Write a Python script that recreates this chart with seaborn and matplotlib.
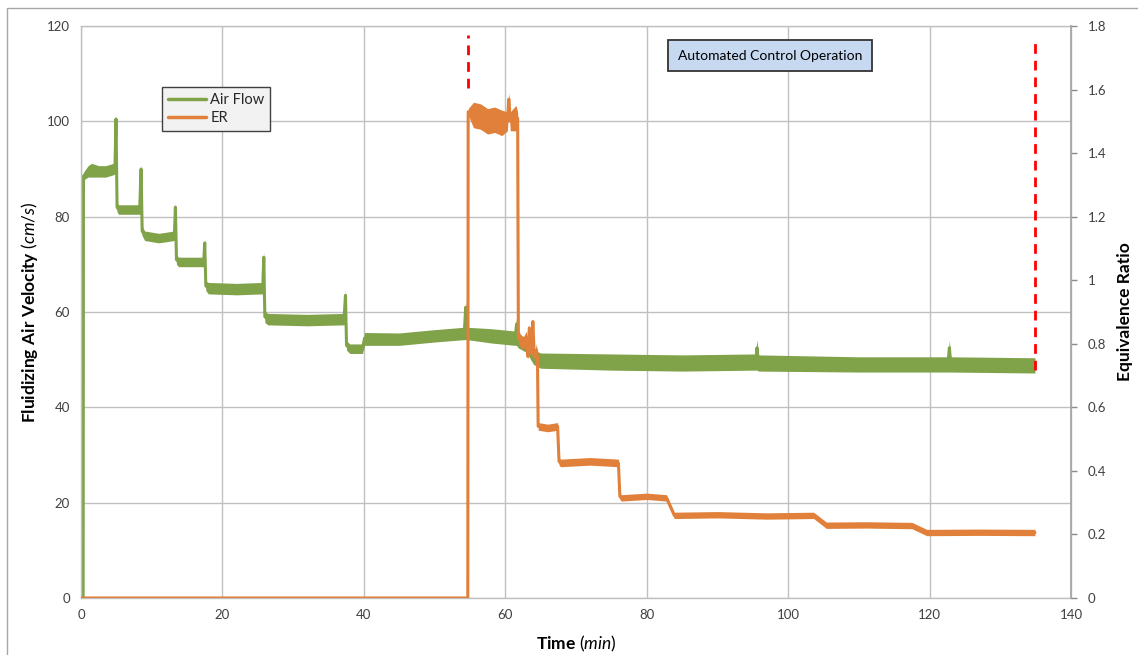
import numpy as np
import pandas as pd
import matplotlib
matplotlib.use("Agg")
import matplotlib.pyplot as plt
from matplotlib.lines import Line2D
from matplotlib.patches import Rectangle
import seaborn as sns

# Air flow record: time (min), fluidizing air velocity (cm/s) and
# half-width of the measurement scatter around it
air_time = [0, 0.3, 0.35, 1.0, 1.5, 2.5, 3.5, 4.6, 4.8, 4.95,
            5.1, 5.3, 6.5, 8.3, 8.5, 8.65, 9.0, 11.0, 13.2, 13.35,
            13.5, 13.8, 16.0, 17.35, 17.5, 17.65, 18.0, 22.0, 25.7, 25.85,
            26.0, 26.4, 32.0, 37.2, 37.4, 37.55, 38.0, 39.8, 40.1, 45.0,
            50.0, 54.2, 54.4, 54.6, 58.0, 61.4, 61.6, 61.8, 63.0, 64.0,
            65.0, 75.0, 85.0, 95.4, 95.6, 95.8, 110.0, 122.6, 122.8, 123.0,
            134.9]
air_vel = [0, 0, 88.5, 89.5, 90.0, 89.5, 89.5, 90.0, 90, 100.5,
           82.0, 81.5, 81.5, 81.5, 90, 77, 76, 75.5, 76, 82,
           71, 70.5, 70.5, 70.5, 74.5, 65.5, 65, 64.8, 65, 71.5,
           59, 58.5, 58.3, 58.5, 63.5, 53, 52.3, 52.3, 54.5, 54.3,
           55.0, 55.5, 61, 55.5, 55, 54.5, 57.5, 54, 53, 50.5,
           49.8, 49.5, 49.3, 49.5, 52.5, 49.3, 49.0, 49, 52.5, 49,
           48.8]
air_spread = [0, 0, 0.8, 1.2, 1.2, 1.2, 1.2, 1.2, 1.0, 1.0,
              1.0, 1.0, 1.0, 1.0, 1.0, 1.0, 1.0, 1.0, 1.0, 1.0,
              1.0, 1.0, 1.0, 1.0, 1.0, 1.0, 1.2, 1.2, 1.2, 1.2,
              1.2, 1.2, 1.2, 1.2, 1.2, 1.0, 1.0, 1.0, 1.2, 1.3,
              1.3, 1.3, 1.3, 1.3, 1.5, 1.5, 1.5, 1.5, 1.5, 1.5,
              1.6, 1.7, 1.7, 1.7, 1.7, 1.7, 1.6, 1.6, 1.6, 1.6,
              1.6]

# Equivalence ratio record: time (min), ER and half-width of its scatter
er_time = [0, 54.7, 54.75, 55.5, 56.5, 57.5, 58.5, 59.5, 60.3, 60.5,
           60.7, 61.5, 61.75, 61.85, 62.5, 63.0, 63.2, 63.4, 63.7, 63.9,
           64.1, 64.4, 64.55, 64.65, 66.0, 67.4, 67.6, 67.8, 72.0, 76.0,
           76.2, 76.4, 80.0, 82.8, 83.9, 90.0, 97.0, 103.6, 105.4, 111.0,
           117.5, 119.6, 127.0, 134.9]
er_ratio = [0, 0, 1.53, 1.52, 1.515, 1.50, 1.505, 1.495, 1.50, 1.57,
            1.50, 1.51, 1.51, 0.82, 0.80, 0.82, 0.76, 0.85, 0.77, 0.87,
            0.76, 0.78, 0.76, 0.54, 0.535, 0.54, 0.43, 0.425, 0.43, 0.425,
            0.32, 0.315, 0.32, 0.315, 0.26, 0.262, 0.258, 0.26, 0.229, 0.23,
            0.228, 0.206, 0.207, 0.206]
er_spread = [0, 0, 0.01, 0.04, 0.04, 0.04, 0.04, 0.04, 0.03, 0.02,
             0.03, 0.04, 0.02, 0.02, 0.02, 0.02, 0.01, 0.01, 0.02, 0.01,
             0.01, 0.02, 0.01, 0.012, 0.012, 0.012, 0.012, 0.012, 0.012, 0.012,
             0.01, 0.01, 0.01, 0.01, 0.01, 0.01, 0.01, 0.01, 0.01, 0.01,
             0.01, 0.01, 0.01, 0.01]

# Start / end of automated control (time, lower and upper velocity)
control_time = [54.7, 134.9]
control_low = [107, 47.8]
control_high = [118.2, 117.5]

x_ticks = [0, 20, 40, 60, 80, 100, 120, 140]
left_ticks = [0, 20, 40, 60, 80, 100, 120]
right_ticks = [0, 0.2, 0.4, 0.6, 0.8, 1.0, 1.2, 1.4, 1.6, 1.8]

GREEN = "#80a34a"
ORANGE = "#e0803a"
GRID = "#c0c0c0"
TXT = "#404040"

sns.set_theme(style="white")
plt.rcParams["font.family"] = ["Lato", "DejaVu Sans"]
plt.rcParams["mathtext.fontset"] = "custom"
plt.rcParams["mathtext.rm"] = "Lato"
plt.rcParams["mathtext.bf"] = "Lato:bold"
plt.rcParams["mathtext.it"] = "Lato:italic"


def scatter_band(df, col):
    """Lower/upper edge of the scatter band; under a single-sample spike the
    lower edge keeps the level of its neighbours so the band stays closed."""
    v = df[col]
    lower = v - df["s"]
    upper = v + df["s"]
    peak = (v > v.shift(1)) & (v > v.shift(-1))
    neighbour = pd.concat([lower.shift(1), lower.shift(-1)], axis=1).max(axis=1)
    lower = lower.where(~peak, neighbour)
    return lower, upper


fig = plt.figure(figsize=(11.38, 6.55), dpi=100)
fig.patch.set_facecolor("white")
fig.patches.append(Rectangle((7 / 1138, -0.05), 1.2, 1 - 8 / 655 + 0.05,
                             transform=fig.transFigure, fill=False,
                             ec="#a6a6a6", lw=1))

ax = fig.add_axes([81 / 1138, 1 - 598 / 655, 990 / 1138, 572 / 655])
air_df = pd.DataFrame({"t": air_time, "v": air_vel, "s": air_spread})
lo, hi = scatter_band(air_df, "v")
ax.fill_between(air_df["t"], lo, hi, color=GREEN, lw=0)
sns.lineplot(data=air_df, x="t", y="v", ax=ax, color=GREEN, lw=2.2,
             sort=False, estimator=None, legend=False)

ax.set_xlim(0, 140)
ax.set_ylim(0, 120)
ax.set_xticks(x_ticks)
ax.set_yticks(left_ticks)
ax.grid(True, color=GRID, lw=1)
ax.set_axisbelow(True)
ax.tick_params(axis="both", length=0, labelsize=9.5, labelcolor=TXT, pad=8)
for sp in ax.spines.values():
    sp.set_color(GRID)
    sp.set_linewidth(1)

# red dashed markers of the automated control window
for t, lo_v, hi_v in zip(control_time, control_low, control_high):
    ax.plot([t, t], [lo_v, hi_v], color="#ff0000", lw=2, ls=(0, (3.5, 2.5)),
            zorder=5)

ax.set_xlabel(r"$\mathbf{Time}$ $\mathit{(min)}$", fontsize=12.5,
              color="black", labelpad=9)
ax.set_ylabel(r"$\mathbf{Fluidizing\ Air\ Velocity}$ $\mathit{(cm/s)}$",
              fontsize=12.5, color="black", labelpad=5)

ax2 = ax.twinx()
er_df = pd.DataFrame({"t": er_time, "er": er_ratio, "s": er_spread})
ax2.fill_between(er_df["t"], er_df["er"] - er_df["s"],
                 er_df["er"] + er_df["s"], color=ORANGE, lw=0)
sns.lineplot(data=er_df, x="t", y="er", ax=ax2, color=ORANGE, lw=2.2,
             sort=False, estimator=None, legend=False)
ax2.set_ylim(0, 1.8)
ax2.set_yticks(right_ticks)
ax2.set_yticklabels([f"{v:g}" for v in right_ticks])
ax2.tick_params(axis="y", right=True, direction="out", length=4, width=1,
                color="#8c8c8c", labelsize=9.5, labelcolor=TXT, pad=8)
for sp in ax2.spines.values():
    sp.set_visible(False)
ax2.spines["right"].set_visible(True)
ax2.spines["right"].set_color("#a6a6a6")
ax2.set_ylabel("Equivalence Ratio", fontsize=12.5, fontweight="bold",
               color="black", labelpad=8)
ax2.grid(False)

handles = [Line2D([0], [0], color=GREEN, lw=2.5),
           Line2D([0], [0], color=ORANGE, lw=2.5)]
leg = ax2.legend(handles, ["Air Flow", "ER"], loc="upper left",
                 bbox_to_anchor=(0.082, 0.893), borderaxespad=0,
                 fontsize=10.5, frameon=True, fancybox=False,
                 handlelength=2.6, handletextpad=0.3, borderpad=0.4,
                 labelspacing=0.25)
leg.get_frame().set_edgecolor("#404040")
leg.get_frame().set_facecolor("#f2f2f2")
leg.get_frame().set_linewidth(1)
leg.get_frame().set_alpha(1)

ax2.text(0.696, 0.948, "Automated Control Operation", transform=ax2.transAxes,
         ha="center", va="center", fontsize=10, color="black",
         bbox=dict(boxstyle="square,pad=0.7", fc="#c6d9f1", ec="#333333",
                   lw=1.3))

fig.savefig("out.png", dpi=100)
